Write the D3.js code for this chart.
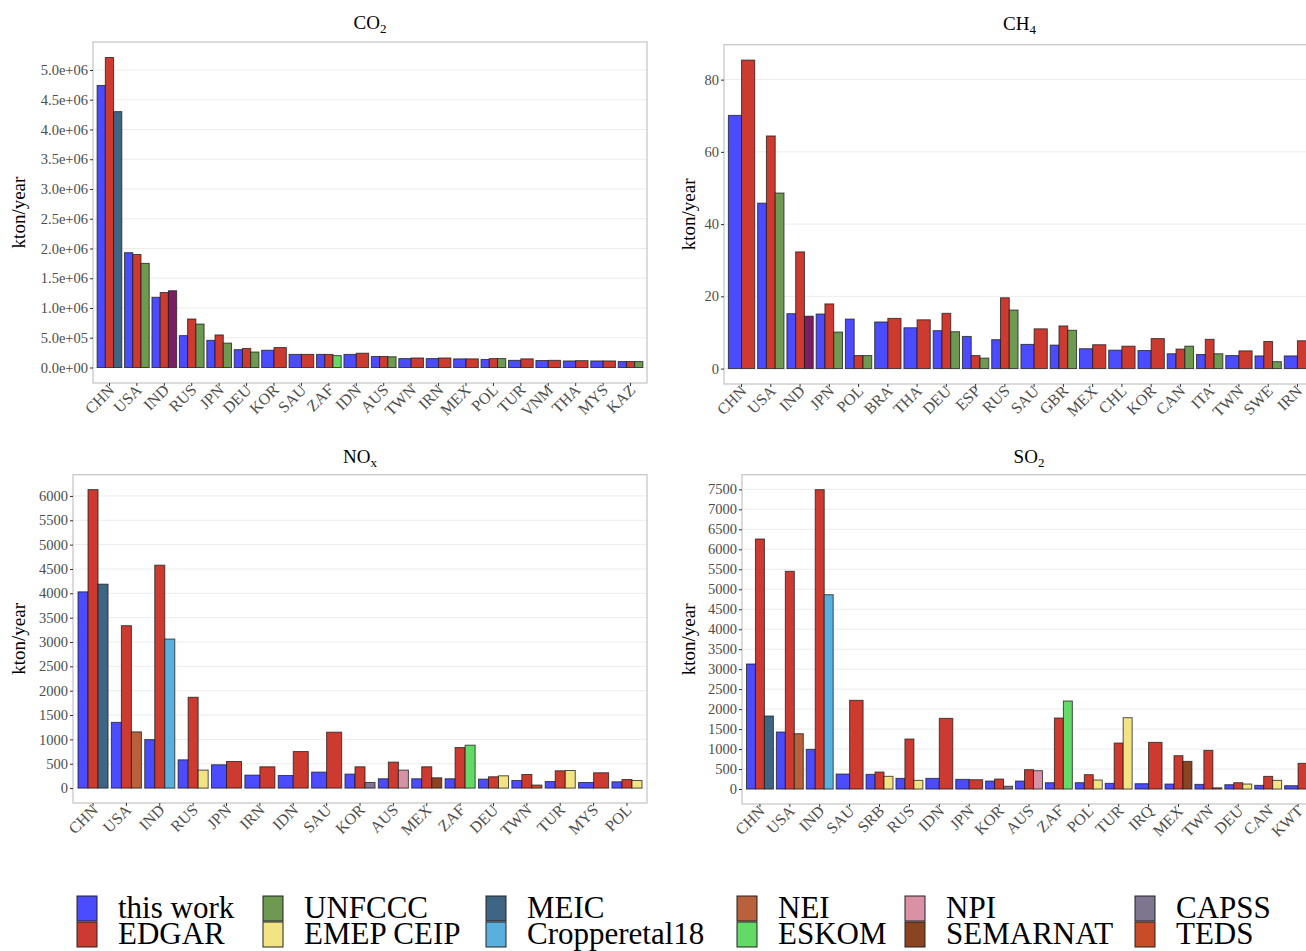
<!DOCTYPE html>
<html>
<head>
<meta charset="utf-8">
<script src="https://cdn.jsdelivr.net/npm/d3@7"></script>
<style>
  body { margin: 0; background: #fff; }
  text { font-family: "Liberation Serif", "Times New Roman", serif; }
</style>
</head>
<body>
<div id="canvas"></div>
<script>
// ---- data (kton/year) ----
let sources = ["this work", "EDGAR", "UNFCCC", "EMEP CEIP", "MEIC", "Cropperetal18",
  "NEI", "ESKOM", "NPI", "SEMARNAT", "CAPSS", "TEDS"];
let sourceColors = ["#4b4bff", "#cd3a30", "#6d9951", "#f3e483", "#3f6585", "#5aafdc",
  "#b8613a", "#63d966", "#d991a6", "#8b4421", "#7e7590", "#c74c27"];
// purple bar for IND is not in the visible part of the legend
let otherColor = "#7c1e62";

let co2Countries = ["CHN", "USA", "IND", "RUS", "JPN", "DEU", "KOR", "SAU", "ZAF", "IDN",
  "AUS", "TWN", "IRN", "MEX", "POL", "TUR", "VNM", "THA", "MYS", "KAZ"];
let co2ThisWork = [4.74e6, 1.93e6, 1.18e6, 5.36e5, 4.57e5, 3.0e5, 2.9e5, 2.2e5, 2.2e5, 2.2e5,
  1.85e5, 1.5e5, 1.5e5, 1.45e5, 1.35e5, 1.2e5, 1.17e5, 1.1e5, 1.1e5, 1.0e5];
let co2Edgar = [5.21e6, 1.90e6, 1.26e6, 8.15e5, 5.47e5, 3.2e5, 3.35e5, 2.2e5, 2.2e5, 2.4e5,
  1.85e5, 1.6e5, 1.6e5, 1.45e5, 1.5e5, 1.45e5, 1.2e5, 1.15e5, 1.1e5, 1.0e5];
let co2ThirdSource = ["MEIC", "UNFCCC", "other", "UNFCCC", "UNFCCC", "UNFCCC", null, null, "ESKOM", null,
  "UNFCCC", null, null, null, "UNFCCC", null, null, null, null, "UNFCCC"];
let co2ThirdValue = [4.30e6, 1.75e6, 1.29e6, 7.3e5, 4.1e5, 2.6e5, null, null, 2.0e5, null,
  1.8e5, null, null, null, 1.5e5, null, null, null, null, 1.0e5];

let ch4Countries = ["CHN", "USA", "IND", "JPN", "POL", "BRA", "THA", "DEU", "ESP", "RUS",
  "SAU", "GBR", "MEX", "CHL", "KOR", "CAN", "ITA", "TWN", "SWE", "IRN"];
let ch4ThisWork = [70.1, 45.8, 15.2, 15.1, 13.7, 12.9, 11.3, 10.5, 8.9, 8.0,
  6.7, 6.5, 5.5, 5.1, 5.0, 4.1, 3.9, 3.6, 3.5, 3.5];
let ch4Edgar = [85.4, 64.4, 32.3, 17.9, 3.6, 13.9, 13.5, 15.3, 3.6, 19.6,
  11.0, 11.8, 6.6, 6.2, 8.3, 5.4, 8.1, 4.9, 7.5, 7.7];
let ch4ThirdSource = [null, "UNFCCC", "other", "UNFCCC", "UNFCCC", null, null, "UNFCCC", "UNFCCC", "UNFCCC",
  null, "UNFCCC", null, null, null, "UNFCCC", "UNFCCC", null, "UNFCCC", null];
let ch4ThirdValue = [null, 48.6, 14.5, 10.1, 3.6, null, null, 10.2, 2.9, 16.2,
  null, 10.6, null, null, null, 6.2, 4.1, null, 1.9, null];

let noxCountries = ["CHN", "USA", "IND", "RUS", "JPN", "IRN", "IDN", "SAU", "KOR", "AUS",
  "MEX", "ZAF", "DEU", "TWN", "TUR", "MYS", "POL"];
let noxThisWork = [4030, 1350, 995, 580, 478, 266, 258, 328, 287, 191,
  191, 191, 184, 156, 135, 115, 129];
let noxEdgar = [6130, 3335, 4578, 1865, 546, 437, 750, 1148, 437, 533,
  437, 832, 232, 279, 355, 314, 176];
let noxThirdSource = ["MEIC", "NEI", "Cropperetal18", "EMEP CEIP", null, null, null, null, "CAPSS", "NPI",
  "SEMARNAT", "ESKOM", "EMEP CEIP", "TEDS", "EMEP CEIP", null, "EMEP CEIP"];
let noxThirdValue = [4188, 1154, 3061, 369, null, null, null, null, 115, 369,
  211, 881, 252, 62, 361, null, 156];

let so2Countries = ["CHN", "USA", "IND", "SAU", "SRB", "RUS", "IDN", "JPN", "KOR", "AUS",
  "ZAF", "POL", "TUR", "IRQ", "MEX", "TWN", "DEU", "CAN", "KWT"];
let so2ThisWork = [3129, 1427, 993, 375, 367, 267, 267, 242, 200, 200,
  158, 158, 142, 133, 125, 117, 108, 92, 83];
let so2Edgar = [6257, 5449, 7492, 2220, 425, 1251, 1769, 233, 250, 484,
  1777, 359, 1151, 1168, 834, 968, 158, 317, 643];
let so2ThirdSource = ["MEIC", "NEI", "Cropperetal18", null, "EMEP CEIP", "EMEP CEIP", null, null, "CAPSS", "NPI",
  "ESKOM", "EMEP CEIP", "EMEP CEIP", null, "SEMARNAT", "TEDS", "EMEP CEIP", "EMEP CEIP", null];
let so2ThirdValue = [1827, 1384, 4863, null, 318, 217, null, null, 70, 459,
  2203, 225, 1785, null, 692, 30, 125, 217, null];

let co2Ticks = d3.range(0, 5.0e6 + 1, 5e5);
let ch4Ticks = [0, 20, 40, 60, 80];
let noxTicks = d3.range(0, 6001, 500);
let so2Ticks = d3.range(0, 7501, 500);

// ---- drawing ----
let svg = d3
  .select("#canvas")
  .append("svg")
  .attr("width", 1306)
  .attr("height", 951)
  .style("background", "#fff");

let color = d3.scaleOrdinal().domain(sources.concat(["other"])).range(sourceColors.concat([otherColor]));

let sciFmt = (v) => {
  let [m, e] = v.toExponential(1).split("e");
  let sign = e[0];
  let digits = e.slice(1).padStart(2, "0");
  return `${m}e${sign}${digits}`;
};

let drawPanel = (p) => {
  let { countries, thisWork, edgar, thirdSrc, thirdVal, box, ticks, fmt, title, sub, titleY, labelX } = p;

  let groups = countries.map((c, i) => {
    let bars = [{ src: "this work", v: thisWork[i] }, { src: "EDGAR", v: edgar[i] }];
    if (thirdSrc[i]) bars.push({ src: thirdSrc[i], v: thirdVal[i] });
    return { c, bars };
  });

  let maxV = d3.max(groups, (g) => d3.max(g.bars, (b) => b.v));

  let x = d3
    .scaleBand()
    .domain(countries)
    .range([box.x0, box.x1])
    .paddingInner(0.1)
    .paddingOuter(0.15);

  let y = d3
    .scaleLinear()
    .domain([-0.05 * maxV, 1.05 * maxV])
    .range([box.y1, box.y0]);

  let g = svg.append("g");

  // grid
  g.selectAll(".grid")
    .data(ticks)
    .join("line")
    .attr("x1", box.x0)
    .attr("x2", box.x1)
    .attr("y1", (d) => y(d))
    .attr("y2", (d) => y(d))
    .attr("stroke", "#ececec")
    .attr("stroke-width", 1);

  // bars
  let bw = x.bandwidth();
  g.selectAll(".grp")
    .data(groups)
    .join("g")
    .selectAll("rect")
    .data((d) => d.bars.map((b, i) => ({ ...b, c: d.c, i, k: d.bars.length })))
    .join("rect")
    .attr("x", (d) => x(d.c) + (d.i * bw) / d.k)
    .attr("width", (d) => bw / d.k)
    .attr("y", (d) => y(d.v))
    .attr("height", (d) => y(0) - y(d.v))
    .attr("fill", (d) => color(d.src))
    .attr("stroke", "#1a1a1a")
    .attr("stroke-opacity", 0.75)
    .attr("stroke-width", 1);

  // panel border
  g.append("rect")
    .attr("x", box.x0)
    .attr("y", box.y0)
    .attr("width", box.x1 - box.x0)
    .attr("height", box.y1 - box.y0)
    .attr("fill", "none")
    .attr("stroke", "#c4c4c4")
    .attr("stroke-width", 1.2);

  // y axis
  let ya = g
    .append("g")
    .attr("transform", `translate(${box.x0},0)`)
    .call(d3.axisLeft(y).tickValues(ticks).tickSize(3).tickPadding(2).tickFormat(fmt));
  ya.select(".domain").remove();
  ya.selectAll("line").attr("stroke", "#333");
  ya.selectAll("text").attr("fill", "#4d4d4d").style("font-size", "14.5px");

  // x axis
  let xa = g
    .append("g")
    .attr("transform", `translate(0,${box.y1})`)
    .call(d3.axisBottom(x).tickSize(3).tickPadding(2));
  xa.select(".domain").remove();
  xa.selectAll("line").attr("stroke", "#333");
  xa.selectAll("text")
    .attr("fill", "#4d4d4d")
    .style("font-size", "16px")
    .style("text-anchor", "end")
    .attr("dx", "-0.1em")
    .attr("dy", "0.3em")
    .attr("transform", "rotate(-45)");

  // title
  let t = svg
    .append("text")
    .attr("x", (box.x0 + box.x1) / 2)
    .attr("y", titleY)
    .attr("text-anchor", "middle")
    .style("font-size", "19px")
    .attr("fill", "#000");
  t.append("tspan").text(title);
  t.append("tspan").attr("dy", "0.3em").style("font-size", "13px").text(sub);

  // y label
  svg
    .append("text")
    .attr("transform", `translate(${labelX},${(box.y0 + box.y1) / 2}) rotate(-90)`)
    .attr("text-anchor", "middle")
    .style("font-size", "19px")
    .attr("fill", "#000")
    .text("kton/year");
};

drawPanel({
  countries: co2Countries, thisWork: co2ThisWork, edgar: co2Edgar,
  thirdSrc: co2ThirdSource, thirdVal: co2ThirdValue,
  box: { x0: 93, x1: 647, y0: 42, y1: 383 },
  ticks: co2Ticks, fmt: sciFmt, title: "CO", sub: "2", titleY: 29, labelX: 25,
});

drawPanel({
  countries: ch4Countries, thisWork: ch4ThisWork, edgar: ch4Edgar,
  thirdSrc: ch4ThirdSource, thirdVal: ch4ThirdValue,
  box: { x0: 724, x1: 1315, y0: 44.7, y1: 384 },
  ticks: ch4Ticks, fmt: d3.format("d"), title: "CH", sub: "4", titleY: 30, labelX: 695,
});

drawPanel({
  countries: noxCountries, thisWork: noxThisWork, edgar: noxEdgar,
  thirdSrc: noxThirdSource, thirdVal: noxThirdValue,
  box: { x0: 73, x1: 647, y0: 474.7, y1: 803 },
  ticks: noxTicks, fmt: d3.format("d"), title: "NO", sub: "x", titleY: 463, labelX: 25,
});

drawPanel({
  countries: so2Countries, thisWork: so2ThisWork, edgar: so2Edgar,
  thirdSrc: so2ThirdSource, thirdVal: so2ThirdValue,
  box: { x0: 742, x1: 1316, y0: 474.7, y1: 804 },
  ticks: so2Ticks, fmt: d3.format("d"), title: "SO", sub: "2", titleY: 463, labelX: 695,
});

// ---- legend: 2 rows, filled column by column ----
let legend = svg.append("g");
let legendColX = [77, 263, 486, 737, 905, 1135];
legendColX.forEach((lx, col) => {
  [sources[col * 2], sources[col * 2 + 1]].forEach((s, r) => {
    legend
      .append("rect")
      .attr("x", lx)
      .attr("y", 896 + r * 26)
      .attr("width", 20)
      .attr("height", 25)
      .attr("fill", color(s))
      .attr("stroke", "#222")
      .attr("stroke-width", 1);
    legend
      .append("text")
      .attr("x", lx + 41)
      .attr("y", 918 + r * 26)
      .style("font-size", "31px")
      .attr("fill", "#000")
      .text(s);
  });
});
</script>
</body>
</html>
